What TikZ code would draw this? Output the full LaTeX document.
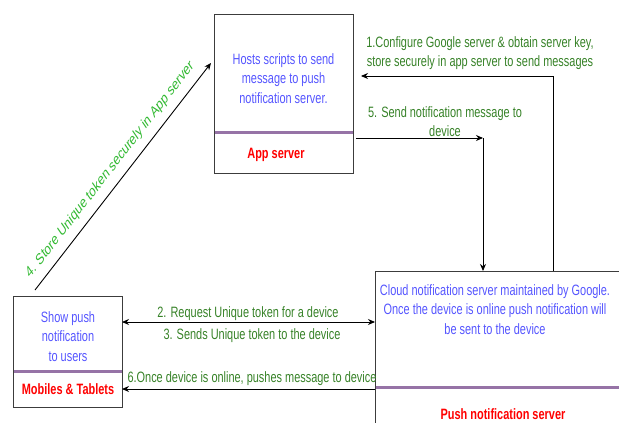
\documentclass[tikz,border=0pt]{standalone}
\usepackage{fontspec}
\setmainfont[FakeStretch=0.73]{Liberation Sans}
\newfontfamily\plainfont{Liberation Sans}
\usetikzlibrary{arrows.meta,calc}
\definecolor{boxgray}{RGB}{60,60,60}
\definecolor{purp}{RGB}{150,115,166}
\definecolor{bluetxt}{RGB}{85,85,255}
\definecolor{greentxt}{RGB}{55,130,40}
\definecolor{lgreen}{RGB}{50,185,50}
\definecolor{redtxt}{RGB}{255,0,0}
\begin{document}
\begin{tikzpicture}[x=1pt,y=-1pt,
 box/.style={draw=boxgray,line width=1pt,inner sep=0pt,outer sep=0pt},
 sep/.style={draw=purp,line width=3pt},
 desc/.style={text=bluetxt,align=center,font=\fontsize{15}{19.5}\selectfont,inner sep=0pt},
 title/.style={text=redtxt,font=\fontsize{15}{18}\selectfont\bfseries,inner sep=0pt},
 lbl/.style={text=greentxt,align=center,font=\fontsize{15}{19}\selectfont,inner sep=0pt},
 conn/.style={draw=black,line width=0.9pt,-{Stealth[length=7pt,width=6pt]}},
 dconn/.style={draw=black,line width=0.9pt,{Stealth[length=7pt,width=6pt]}-{Stealth[length=7pt,width=6pt]}},
]
\useasboundingbox (0,0) rectangle (619,423);
\begin{scope}
\clip (0,0) rectangle (619,423);
% boxes
\node[box,minimum width=139pt,minimum height=159pt] (app) at (283.5,93.5) {};
\node[box,minimum width=109pt,minimum height=111pt] (mob) at (67.5,351.5) {};
\node[box,minimum width=250pt,minimum height=170pt] (push) at (500,356) {};
% separators
\draw[sep] ($(app.north west)+(0.5,118)$) -- ($(app.north east)+(-0.5,118)$);
\draw[sep] ($(mob.north west)+(0.5,75)$) -- ($(mob.north east)+(-0.5,75)$);
\draw[sep] ($(push.north west)+(0.5,116)$) -- ($(push.north east)+(-0.5,116)$);
% box texts
\node[desc] (apptxt) at (283.5,78.5) {Hosts scripts to send\\message to push\\notification server.};
\node[title] (appttl) at (276,155) {App server};
\node[desc] (mobtxt) at (68,336.5) {Show push\\notification\\to users};
\node[title] (mobttl) at (68,389) {Mobiles \& Tablets};
\node[desc] (pushtxt) at (495,309.5) {Cloud notification server maintained by Google.\\Once the device is online push notification will\\be sent to the device};
\node[title] (pushttl) at (503,414) {Push notification server};
% helper coordinates
\coordinate (k1) at (553,76);
\coordinate (k5) at (483,138);
\coordinate (y23) at (0,322);
\coordinate (y6) at (0,389);
% connectors
\draw[conn] (push.north -| k1) |- ([xshift=8pt]app.east |- k1);
\draw[conn] ([xshift=3pt]app.east |- k5) -- (k5);
\draw[conn] (k5) -- (push.north -| k5);
\draw[conn] ([shift={(22,-6)}]mob.north west) -- ([shift={(-3,49)}]app.north west);
\draw[dconn] (mob.east |- y23) -- (push.west |- y23);
\draw[conn] (push.west |- y6) -- (mob.east |- y6);
% labels
\node[lbl] (l1) at (480,53.5) {1.Configure Google server \& obtain server key,\\store securely in app server to send messages};
\node[lbl] (l5) at (445,121.5) {5. Send notification message to\\device};
\node[lbl] (l2) at (248,314) {2. Request Unique token for a device};
\node[lbl] (l3) at (252,336) {3. Sends Unique token to the device};
\node[lbl] (l6) at (252,379) {6.Once device is online, pushes message to device};
\begin{scope}[xscale=0.73,transform shape]
\node[lbl,text=lgreen,rotate=43.3,font=\plainfont\fontsize{15.5}{19}\selectfont] (l4) at (150.7,170) {4. Store Unique token securely in App server};
\end{scope}
\end{scope}
\end{tikzpicture}
\end{document}
